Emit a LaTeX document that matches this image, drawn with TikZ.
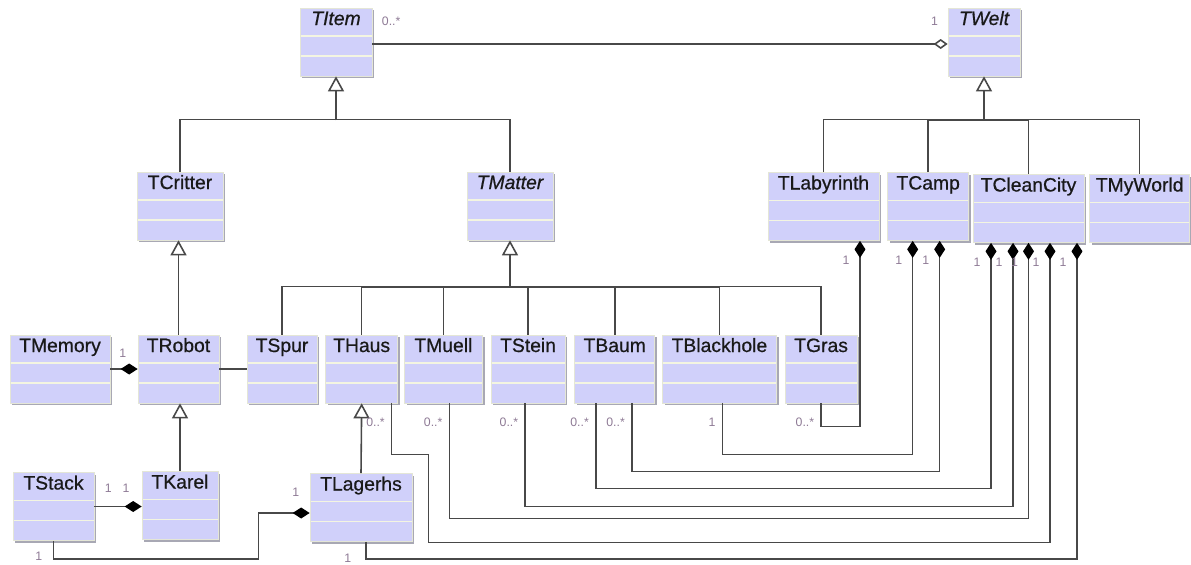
\documentclass[tikz,border=0pt]{standalone}
\usepackage{fontspec}
\setsansfont{Liberation Sans}
\newfontfamily\classfont[FakeBold=0.6]{Liberation Sans}
\usepackage{tikz}
\usetikzlibrary{arrows.meta,positioning,shadows}
\definecolor{classfill}{HTML}{D0D0FA}
\definecolor{classedge}{HTML}{E4E6D6}
\definecolor{classshade}{HTML}{A8A8B4}
\definecolor{sepcol}{HTML}{F3F5E1}
\definecolor{linegray}{HTML}{484848}
\definecolor{multcol}{HTML}{8E7A95}
\tikzset{
  classbox/.style={
    rectangle, draw=classedge, fill=classfill, line width=0.4pt,
    minimum width=#1, inner xsep=2pt, inner ysep=0pt,
    text height=0.34cm, text depth=1.02cm,
    font=\classfont\fontsize{11}{13}\selectfont, text=black!90,
    drop shadow={shadow xshift=0.045cm, shadow yshift=-0.045cm,
      fill=classshade, opacity=1},
    path picture={
      \draw[color=sepcol, line width=1pt]
        ([yshift=-0.56cm]path picture bounding box.north west) --
        ([yshift=-0.56cm]path picture bounding box.north east);
      \draw[color=sepcol, line width=1pt]
        ([yshift=-0.96cm]path picture bounding box.north west) --
        ([yshift=-0.96cm]path picture bounding box.north east);
    }
  },
  classbox/.default=1.6cm,
  abstract/.style={font=\classfont\itshape\fontsize{11}{13}\selectfont},
  genline/.style={draw=linegray, line width=0.9pt},
  inherit/.style={genline, -{Triangle[open, length=0.3cm, width=0.32cm]}},
  compo/.style={genline, -{Diamond[length=0.34cm, width=0.22cm, color=black]}},
  aggreg/.style={genline, -{Diamond[open, length=0.28cm, width=0.2cm]}},
  mult/.style={font=\sffamily\fontsize{7}{8}\selectfont, text=multcol,
    inner sep=1pt},
  srcmult/.style={mult, anchor=north east, xshift=-2.5pt, yshift=-7pt},
  tgtmult/.style={mult, anchor=north east, xshift=-4.5pt, yshift=-7pt},
}
\begin{document}
\begin{tikzpicture}[x=0.02cm, y=-0.02cm]
\useasboundingbox (0,0) rectangle (1191,565);

% base classes
\node[classbox=1.44cm, abstract] (item) at (336,42) {TItem};
\node[classbox=1.44cm, abstract] (welt) at (984,42) {TWelt};

\node[classbox=1.72cm] (critter) at (180,206) {TCritter};
\node[classbox=1.72cm, abstract] (matter) at (510,206) {TMatter};

\node[classbox=2.22cm] (labyrinth) at (823.5,206.5) {TLabyrinth};
\node[classbox=1.62cm, right=0.16cm of labyrinth] (camp) {TCamp};
\node[classbox=2.22cm] (cleancity) at (1028.5,208.5) {TCleanCity};
\node[classbox=2.0cm, right=0.1cm of cleancity] (myworld) {TMyWorld};

% robots and matter
\node[classbox=2.0cm] (memory) at (60,369) {TMemory};
\node[classbox=1.62cm] (robot) at (178.5,369) {TRobot};
\node[classbox=1.4cm] (spur) at (282,369) {TSpur};
\node[classbox=1.44cm, right=0.16cm of spur] (haus) {THaus};
\node[classbox=1.56cm, right=0.12cm of haus] (muell) {TMuell};
\node[classbox=1.48cm, right=0.16cm of muell] (stein) {TStein};
\node[classbox=1.6cm, right=0.18cm of stein] (baum) {TBaum};
\node[classbox=2.28cm, right=0.14cm of baum] (blackhole) {TBlackhole};
\node[classbox=1.44cm, right=0.16cm of blackhole] (gras) {TGras};

\node[classbox=1.62cm] (stack) at (53.5,506.5) {TStack};
\node[classbox=1.52cm] (karel) at (180,505.5) {TKarel};
\node[classbox=2.04cm] (lagerhs) at (361,507.5) {TLagerhs};

% generalisation
\draw[inherit] ([yshift=-0.88cm]item.south) -- (item.south);
\draw[genline] (critter.north) -- ++(0,-52) -| (matter.north);
\draw[inherit] ([yshift=-0.88cm]welt.south) -- (welt.south);
\draw[genline] (labyrinth.north) -- ++(0,-52.5) -| (myworld.north);
\foreach \n in {camp,cleancity}
  \draw[genline] (\n.north) |- ([yshift=-0.88cm]welt.south);
\draw[inherit] (robot.north) -- (robot.north |- critter.south);
\draw[inherit] ([yshift=-0.94cm]matter.south) -- (matter.south);
\draw[genline] (spur.north) -- ++(0,-48) -| (gras.north);
\foreach \n in {haus,muell,stein,baum,blackhole}
  \draw[genline] (\n.north) |- ([yshift=-0.94cm]matter.south);
\draw[inherit] (karel.north) -- (karel.north |- robot.south);
\draw[inherit] (lagerhs.north) -- (haus.south);

% associations
\draw[aggreg] ([yshift=-0.04cm]item.east)
  node[mult, anchor=south west, xshift=4pt, yshift=9pt] {0..*}
  -- ([yshift=-0.04cm]welt.west)
  node[mult, anchor=south east, xshift=-4pt, yshift=9pt] {1};
\draw[compo] (memory.east) -- (robot.west)
  node[mult, anchor=south east, xshift=-5pt, yshift=5pt] {1};
\draw[genline] (robot.east) -- (spur.west);
\draw[compo] (stack.east)
  node[mult, anchor=south west, xshift=4.5pt, yshift=6.5pt] {1}
  -- (stack.east -| karel.west)
  node[mult, anchor=south east, xshift=-5.5pt, yshift=6.5pt] {1};
\draw[compo] (stack.south)
  node[mult, anchor=north east, xshift=-5pt, yshift=-5pt] {1}
  |- ++(205,18) |- ([yshift=-0.11cm]lagerhs.west)
  node[mult, anchor=south east, xshift=-4.5pt, yshift=8pt] {1};

% world parts
\draw[compo] (gras.south) node[srcmult] {0..*}
  -- ++(0,23) -| ([xshift=0.73cm]labyrinth.south) node[tgtmult] {1};
\draw[compo] ([xshift=0.06cm]blackhole.south) node[srcmult] {1}
  -- ++(0,51) -| ([xshift=-0.31cm]camp.south) node[tgtmult] {1};
\draw[compo] ([xshift=0.34cm]baum.south) node[srcmult] {0..*}
  -- ++(0,68) -| ([xshift=0.23cm]camp.south) node[tgtmult] {1};
\draw[compo] ([xshift=-0.38cm]baum.south) node[srcmult] {0..*}
  -- ++(0,85) -| ([xshift=-0.75cm]cleancity.south) node[tgtmult] {1};
\draw[compo] ([xshift=-0.06cm]stein.south) node[srcmult] {0..*}
  -- ++(0,103) -| ([xshift=-0.31cm]cleancity.south) node[tgtmult] {1};
\draw[compo] ([xshift=0.12cm]muell.south) node[srcmult] {0..*}
  -- ++(0,115) -| (cleancity.south) node[tgtmult] {1};
\draw[compo] ([xshift=0.6cm]haus.south) node[srcmult] {0..*}
  -- ++(0,51) -- ++(37,0) -- ++(0,88)
  -| ([xshift=0.43cm]cleancity.south) node[tgtmult] {1};
\draw[compo] ([xshift=0.1cm]lagerhs.south)
  node[mult, anchor=north east, xshift=-7pt, yshift=-5.5pt] {1}
  -- ++(0,17) -| ([xshift=0.97cm]cleancity.south) node[tgtmult] {1};

\end{tikzpicture}
\end{document}
